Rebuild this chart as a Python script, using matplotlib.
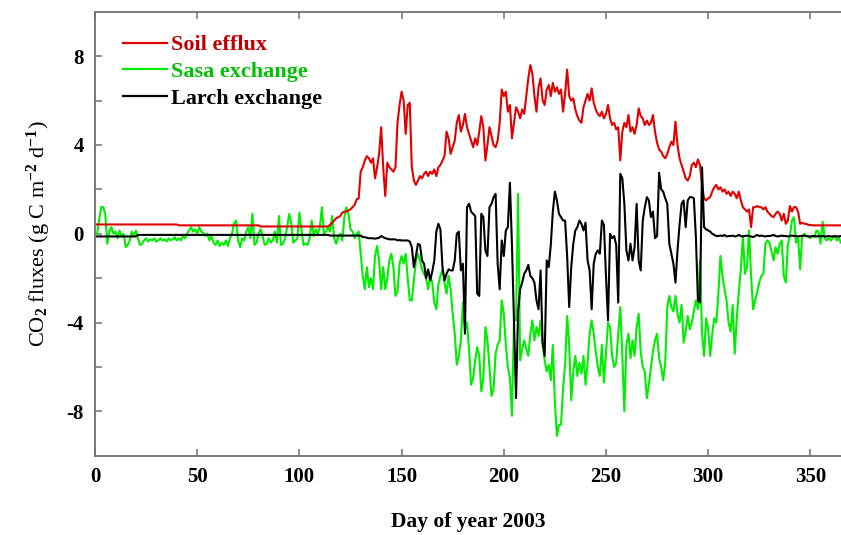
import matplotlib
matplotlib.use('Agg')
import matplotlib.pyplot as plt
from matplotlib.lines import Line2D
from matplotlib.ticker import FuncFormatter
import numpy as np

plt.rcParams['font.family'] = ['Liberation Serif', 'DejaVu Serif']
plt.rcParams['font.weight'] = 'bold'
plt.rcParams['mathtext.fontset'] = 'custom'
plt.rcParams['mathtext.rm'] = 'Liberation Serif'
plt.rcParams['mathtext.it'] = 'Liberation Serif:italic'

# daily values, day 1 .. 365
soil_efflux = [0.42] * 40 + [0.38] * 40 + [0.33] * 34 + [
    0.4, 0.5, 0.6, 0.7, 0.75, 0.8, 0.95, 1.0, 1.0, 1.05, 1.1, 1.2, 1.3, 1.55, 1.6, 2.8,
    3.0, 3.3, 3.5, 3.4, 3.2, 3.4, 2.5, 3.0, 3.6, 4.8,
    3.0, 1.7, 3.2, 3.0, 2.9, 2.8, 3.0, 5.0, 5.8, 6.4,
    6.0, 4.5, 5.8, 5.9, 3.0, 2.4, 2.2, 2.4, 2.6, 2.5,
    2.7, 2.8, 2.6, 2.8, 2.7, 2.9, 2.6, 3.0, 3.1, 3.3,
    3.5, 4.6, 4.3, 3.6, 3.9, 4.2, 5.0, 5.35, 4.6, 4.9,
    5.4, 4.8, 4.5, 4.2, 3.9, 4.3, 4.0, 4.6, 5.3, 4.8,
    3.3, 4.0, 4.8, 4.4, 4.0, 3.9, 4.2, 5.0, 6.5, 6.2,
    6.4, 5.5, 5.8, 4.3, 5.0, 5.7, 5.5, 5.2, 5.6, 5.4,
    6.2, 7.0, 7.6, 7.2, 6.2, 5.5, 6.6, 7.0, 6.0, 5.8,
    6.5, 6.7, 6.2, 6.8, 6.4, 6.6, 6.3, 6.5, 5.5, 6.3,
    7.4, 6.2, 6.0, 6.1, 5.6, 5.3, 5.1, 5.0, 5.7, 6.0,
    6.3, 6.0, 6.55, 5.9, 5.6, 5.4, 5.3, 5.5, 5.2, 5.4,
    5.8, 5.2, 4.9, 5.0, 4.7, 4.8, 3.3, 4.6, 5.0, 4.8,
    5.35, 4.6, 4.8, 4.5, 4.9, 5.65, 5.3, 5.2, 4.9, 5.1,
    4.9, 5.0, 5.35, 4.6, 4.1, 3.8, 3.7, 3.5, 3.4, 3.6,
    3.9, 4.15, 4.0, 5.05, 4.0, 3.4, 3.1, 2.8, 2.5, 2.4,
    2.6, 3.1, 3.2, 3.0, 3.35, 3.1, 2.2, 1.6, 1.5, 1.6,
    1.65, 1.9, 2.1, 2.2, 2.0, 2.1, 1.9, 2.0, 1.8, 1.9,
    1.7, 1.9, 1.8, 1.6, 1.9, 1.5, 1.2, 1.1, 1.0, 1.1,
    0.3, 1.2, 1.2, 1.25, 1.2, 1.2, 1.1, 1.2, 1.0, 0.9,
    0.8, 0.75, 0.9, 1.0, 0.9, 0.6, 0.9, 0.45, 0.6, 1.25,
    1.0, 1.2, 1.2, 1.0, 0.45, 0.5, 0.45, 0.45, 0.4, 0.4,
] + [0.38] * 15

sasa_exchange = [
    0.0, 0.6, 1.2, 1.2, 0.9, -0.45, 0.1, 0.3, 0.0, 0.1,
    -0.2, 0.15, -0.1, 0.0, -0.6, -0.5, -0.3, 0.1, -0.1, 0.15,
    -0.2, -0.5, -0.45, -0.3, -0.2, -0.35, -0.25, -0.3, -0.2, -0.35,
    -0.3, -0.2, -0.3, -0.25, -0.35, -0.2, -0.3, -0.25, -0.15, -0.3,
    -0.2, -0.3, -0.1, -0.2, 0.0, 0.15, 0.3, 0.1, 0.2, 0.0,
    0.3, 0.1, 0.05, -0.1, 0.0, -0.3, -0.1, -0.4, -0.5, -0.3,
    -0.55, -0.4, -0.5, -0.3, -0.55, -0.2, 0.0, 0.45, 0.6, -0.3,
    -0.6, -0.2, -0.3, 0.1, 0.3, -0.2, 0.9, -0.5, -0.4, 0.0,
    0.2, -0.1, -0.5, -0.45, -0.2, -0.4, -0.3, 0.1, -0.4, 0.8,
    -0.5, -0.45, -0.2, 0.3, 0.9, 0.5, -0.4, -0.3, -0.2, 0.95,
    0.2, -0.5, -0.45, -0.5, -0.2, 0.6, -0.1, 0.2, 0.0, 0.3,
    1.2, 0.0, 0.1, 0.3, 0.1, 0.8, -0.2, -0.45, -0.1, 0.0,
    -0.3, 0.75, 1.2, 0.9, 0.2, 0.1, -0.2, 0.0, 0.1, -0.9,
    -1.9, -2.5, -1.5, -2.4, -2.0, -2.5, -1.0, -0.55, -1.2, -2.5,
    -1.5, -2.5, -2.0, -1.2, -0.9, -1.5, -2.8, -2.6, -1.35, -1.0,
    -1.35, -0.9, -2.0, -3.0, -3.0, -2.1, -1.2, -0.9, -1.2, -1.6,
    -1.8, -2.0, -2.5, -1.9, -2.2, -3.1, -3.4, -2.3, -1.9, -1.6,
    -2.2, -2.7, -1.9, -2.5, -3.6, -4.5, -5.9, -5.5, -4.8, -3.1,
    -4.3, -4.0, -5.2, -6.8, -6.5, -5.7, -5.1, -5.5, -7.1, -6.5,
    -4.2, -4.8, -6.0, -7.3, -7.0, -5.4, -5.0, -4.8, -3.0, -3.6,
    -5.0, -6.0, -6.5, -8.2, -3.9, -3.9, 1.8, -5.7, -5.2, -4.8,
    -5.2, -5.5, -4.5, -3.9, -4.8, -4.2, -4.6, -3.9, -5.0, -5.7,
    -6.2, -5.9, -6.6, -5.0, -7.6, -9.1, -8.6, -8.6, -7.0, -5.9,
    -3.7, -5.0, -7.5, -6.2, -5.5, -6.4, -5.8, -6.3, -5.5, -6.8,
    -5.8, -4.5, -3.9, -4.5, -5.3, -6.0, -6.4, -5.0, -6.7, -5.4,
    -4.0, -4.2, -5.5, -6.0, -5.8, -4.5, -3.3, -5.5, -8.0, -5.0,
    -4.5, -5.6, -4.8, -5.5, -4.2, -3.6, -5.3, -6.0, -6.2, -7.4,
    -6.8, -6.0, -5.3, -4.8, -4.5, -5.6, -6.0, -6.6, -5.8, -3.3,
    -2.8, -3.3, -3.5, -2.8, -3.6, -4.0, -3.2, -4.9, -4.4, -3.7,
    -4.3, -4.0, -3.5, -3.0, -3.4, -1.2, -4.5, -5.5, -3.8, -4.3,
    -5.5, -4.5, -3.8, -4.0, -2.7, -1.0, -1.9, -2.5, -3.0, -4.0,
    -4.4, -3.2, -5.4, -3.8, -2.6, -1.6, -0.1, -1.8, -1.5, 0.15,
    -1.9, -3.4, -3.0, -2.6, -2.2, -1.9, -1.8, -0.45, -0.3, -0.4,
    -0.8, -1.2, -0.6, -0.9, -0.45, -0.3, -1.9, -2.2, -0.5, -0.1,
    0.6, 0.75, -0.4, -0.2, -1.6, -0.1, 0.0, -0.1, -0.1, -0.2,
    -0.1, -0.15, 0.15, 0.1, -0.45, 0.55, -0.2, -0.3, -0.2, -0.3,
    -0.2, -0.1, -0.3, -0.2, -0.4,
]

larch_exchange = [-0.12] * 20 + [-0.05] * 94 + [-0.08] * 16 + [
    -0.15, -0.15, -0.18, -0.2, -0.2, -0.2, -0.22, -0.2, -0.18, -0.1,
    -0.15, -0.2, -0.22, -0.25, -0.25, -0.25, -0.25, -0.3, -0.28, -0.3,
    -0.3, -0.3, -0.3, -0.35, -0.6, -1.5, -1.0, -0.45, -0.5, -1.2,
    -1.35, -2.0, -1.6, -2.1, -1.7, -1.2, 0.1, 0.45, 0.2, -1.5,
    -2.1, -1.8, -1.6, -1.65, -1.65, -1.2, 0.0, 0.1, -1.65, -1.35,
    -4.5, 1.2, 1.35, 1.0, 0.9, 0.8, -2.7, -2.8, 0.9, 0.75,
    -0.75, -1.0, 1.2, 1.35, 1.65, 1.8, -1.35, -2.5, -0.3, -1.0,
    0.15, 0.3, 2.3, -0.5, -4.0, -7.4, -3.5, -2.5, -2.2, -1.8,
    -1.65, -1.4, -1.9, -2.0, -2.2, -3.0, -3.4, -1.65, -4.9, -5.5,
    -1.2, -1.5, -0.5, 1.0, 1.9, 1.5, 0.9, 0.75, 0.6, 0.6,
    -1.0, -3.3, -1.5, -0.45, 0.15, 0.3, 0.6, 0.45, 0.15, 0.5,
    -1.2, -1.65, -3.4, -1.35, -0.9, -0.75, -0.9, 0.6, 0.4, -1.9,
    -3.9, 0.0, -0.2, -0.1, -0.5, -3.1, 2.7, 2.5, 1.35, -0.75,
    -1.2, -0.45, -1.2, -0.6, 1.35, -1.2, -1.65, 0.6, 1.2, 1.65,
    1.5, 0.75, 1.0, -0.2, -0.1, 2.75, 2.0, 1.9, 1.6, 1.35,
    -0.45, -0.9, -1.35, -2.2, -0.75, 0.4, 1.35, 1.5, 0.3, 1.5,
    1.65, 1.65, 1.6, -0.15, -3.0, -3.1, 3.0, 0.3, 0.2, 0.15,
    0.1, 0.0, -0.05, -0.1, -0.1, -0.08, -0.1, -0.05, -0.12, -0.1,
    -0.1, -0.08, -0.12, -0.1, -0.05, -0.1, -0.12, -0.1, -0.08, -0.1,
    -0.12, -0.15, -0.1, -0.05, -0.1, -0.08, -0.1, -0.12, -0.1, -0.1,
    -0.08, -0.05, -0.1, -0.12, -0.1, -0.08, -0.1, -0.1, -0.12, -0.1,
    -0.08, -0.1, -0.1, -0.12, -0.1, -0.1, -0.08, -0.1, -0.12, -0.12,
    -0.1, -0.1, -0.12, -0.1, -0.12, -0.1, -0.12, -0.12, -0.1, -0.12,
    -0.12, -0.1, -0.12, -0.12, -0.1,
]

series_names = ['Soil efflux', 'Sasa exchange', 'Larch exchange']
line_colors = ['#e00000', '#00ee00', '#000000']
text_colors = ['#c00000', '#00c000', '#000000']

x_ticks = [0, 50, 100, 150, 200, 250, 300, 350]
y_ticks = [-8, -6, -4, -2, 0, 2, 4, 6, 8]
y_labelled = [-8, -4, 0, 4, 8]

fig = plt.figure(figsize=(8.41, 5.35), dpi=100)
ax = fig.add_axes([0.113, 0.148, 0.887, 0.830])

def days(values):
    return np.arange(1, len(values) + 1)

ax.plot(days(sasa_exchange), sasa_exchange, color=line_colors[1], lw=1.5, zorder=2)
ax.plot(days(soil_efflux), soil_efflux, color=line_colors[0], lw=1.5, zorder=3)
ax.plot(days(larch_exchange), larch_exchange, color=line_colors[2], lw=1.5, zorder=4)

ax.set_xlim(0, 365)
ax.set_ylim(-10, 10)
ax.set_xticks(x_ticks)
ax.set_yticks(y_ticks)
ax.yaxis.set_major_formatter(FuncFormatter(lambda v, p: str(int(v)) if int(v) in y_labelled else ''))

for side in ['left', 'bottom', 'top']:
    ax.spines[side].set_color('#707070')
    ax.spines[side].set_linewidth(1.3)
ax.spines['right'].set_visible(False)
ax.tick_params(direction='in', length=5, width=1.1, color='#707070',
               labelcolor='black', labelsize=15, top=True, pad=8)

ax.set_xlabel('Day of year 2003', fontsize=15.5, fontweight='bold', labelpad=18)
ax.set_ylabel(r'CO$_2$ fluxes (g C m$^{-2}$ d$^{-1}$)', fontsize=16,
              fontweight='normal', labelpad=10)

handles = [Line2D([], [], color=c, lw=1.6) for c in line_colors]
leg = ax.legend(handles, series_names, loc='upper left', bbox_to_anchor=(0.025, 0.968),
                frameon=False, fontsize=16, handlelength=2.0, handletextpad=0.2,
                labelspacing=0.28, borderaxespad=0)
for txt, c in zip(leg.get_texts(), text_colors):
    txt.set_color(c)

fig.savefig('out.png', dpi=100)
